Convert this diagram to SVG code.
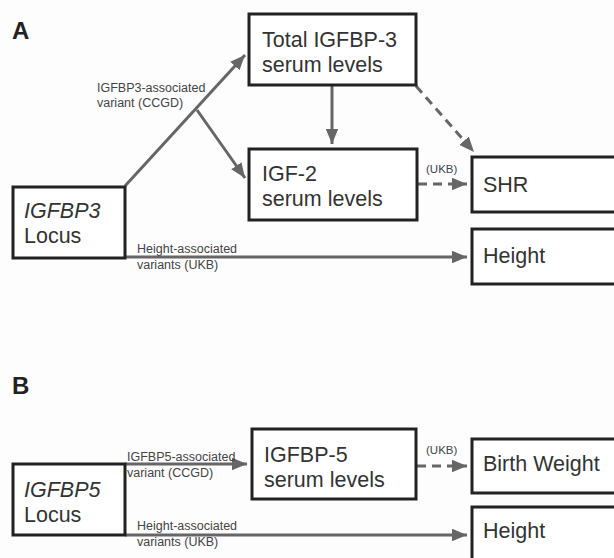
<svg xmlns="http://www.w3.org/2000/svg" width="614" height="558" viewBox="0 0 614 558">
<style>
.box{fill:#fff;stroke:#222;stroke-width:3}
.t{font-family:"Liberation Sans",Arial,sans-serif;fill:#333;font-size:21.5px}
.it{font-style:italic}
.lbl{font-family:"Liberation Sans",Arial,sans-serif;fill:#444;font-size:12.5px}
.ukb{font-family:"Liberation Sans",Arial,sans-serif;fill:#444;font-size:11.5px}
.panel{font-family:"Liberation Sans",Arial,sans-serif;fill:#222;font-size:24px;font-weight:bold}
.c{fill:none;stroke:#666;stroke-width:3}
.d{stroke-dasharray:9,6}
</style>
<defs>
<marker id="a" viewBox="0 0 12 10" refX="12" refY="5" markerWidth="5" markerHeight="4.2" orient="auto">
<path d="M0,0 L12,5 L0,10 Z" fill="#666"/>
</marker>
</defs>
<rect width="614" height="558" fill="#fdfdfd"/>
<text class="panel" x="12" y="39">A</text>
<text class="panel" x="12" y="394">B</text>

<g id="connectors">
<path class="c" d="M125,186 L245,55" marker-end="url(#a)"/>
<path class="c" d="M197,110 L245,178" marker-end="url(#a)"/>
<path class="c" d="M332,86 L332,144" marker-end="url(#a)"/>
<path class="c d" d="M416,86 L474,152" marker-end="url(#a)"/>
<path class="c d" d="M418,184 L467,184" marker-end="url(#a)"/>
<path class="c" d="M125,257 L467,257" marker-end="url(#a)"/>
<path class="c" d="M125,464 L247,464" marker-end="url(#a)"/>
<path class="c d" d="M417,466 L467,466" marker-end="url(#a)"/>
<path class="c" d="M125,535 L467,535" marker-end="url(#a)"/>
<text class="lbl" x="97" y="92">IGFBP3-associated</text>
<text class="lbl" x="97" y="107">variant (CCGD)</text>
<text class="ukb" x="426" y="173">(UKB)</text>
<text class="lbl" x="137" y="253">Height-associated</text>
<text class="lbl" x="137" y="269">variants (UKB)</text>
<text class="lbl" x="127" y="461">IGFBP5-associated</text>
<text class="lbl" x="127" y="477">variant (CCGD)</text>
<text class="ukb" x="426" y="454">(UKB)</text>
<text class="lbl" x="137" y="530">Height-associated</text>
<text class="lbl" x="137" y="546">variants (UKB)</text>
</g>

<g id="total-igfbp3">
<rect class="box" x="249" y="14" width="167" height="71"/>
<text class="t" x="262" y="47">Total IGFBP-3</text>
<text class="t" x="262" y="72">serum levels</text>
</g>
<g id="igf2">
<rect class="box" x="249" y="149" width="168" height="71"/>
<text class="t" x="262" y="181">IGF-2</text>
<text class="t" x="262" y="206">serum levels</text>
</g>
<g id="igfbp3-locus">
<rect class="box" x="13" y="187" width="112" height="71"/>
<text class="t it" x="24" y="218">IGFBP3</text>
<text class="t" x="24" y="243">Locus</text>
</g>
<g id="shr">
<rect class="box" x="472" y="157" width="150" height="55"/>
<text class="t" x="483" y="192">SHR</text>
</g>
<g id="height-a">
<rect class="box" x="472" y="229" width="150" height="55"/>
<text class="t" x="483" y="263">Height</text>
</g>
<g id="igfbp5-locus">
<rect class="box" x="13" y="464" width="112" height="71"/>
<text class="t it" x="24" y="497">IGFBP5</text>
<text class="t" x="24" y="522">Locus</text>
</g>
<g id="igfbp5-serum">
<rect class="box" x="252" y="429" width="164" height="70"/>
<text class="t" x="264" y="462">IGFBP-5</text>
<text class="t" x="264" y="487">serum levels</text>
</g>
<g id="birth-weight">
<rect class="box" x="472" y="439" width="150" height="54"/>
<text class="t" x="483" y="471">Birth Weight</text>
</g>
<g id="height-b">
<rect class="box" x="472" y="507" width="150" height="70"/>
<text class="t" x="483" y="538">Height</text>
</g>
</svg>
